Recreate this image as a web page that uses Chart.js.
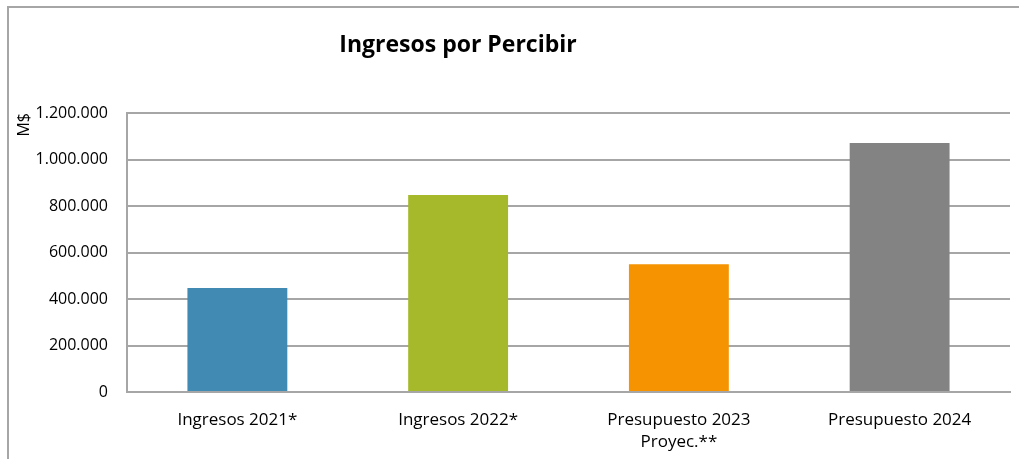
<!DOCTYPE html>
<html>
<head>
<meta charset="utf-8">
<script src="https://cdn.jsdelivr.net/npm/chart.js@4.4.1/dist/chart.umd.min.js"></script>
<style>
  html, body { margin: 0; padding: 0; background: #ffffff; }
  #wrap { position: relative; width: 1019px; height: 459px; overflow: hidden; }
  #frame { position: absolute; left: 7px; top: 6px; width: 1100px; height: 600px;
           border-left: 2px solid #a6a6a6; border-top: 2px solid #a6a6a6; }
  canvas { position: absolute; left: 0; top: 0; }
</style>
</head>
<body>
<div id="wrap">
  <div id="frame"></div>
  <canvas id="c" width="1019" height="459"></canvas>
</div>
<script>
const chartTitle = "Ingresos por Percibir";
const yAxisTitle = "M$";
const categories = [["Ingresos 2021*"], ["Ingresos 2022*"], ["Presupuesto 2023", "Proyec.**"], ["Presupuesto 2024"]];
const values = [447000, 847000, 550000, 1071000];
const barColors = ["#418ab3", "#a6b92a", "#f59300", "#838383"];
const yTicks = [0, 200000, 400000, 600000, 800000, 1000000, 1200000];

function fmt(v) {
  return String(Math.round(v)).replace(/\B(?=(\d{3})+(?!\d))/g, ".");
}

const titlePlugin = {
  id: 'freeTitle',
  afterDraw(chart) {
    const ctx = chart.ctx;
    ctx.save();
    ctx.font = "bold 23px 'Open Sans'";
    ctx.fillStyle = "#000";
    ctx.textAlign = "center";
    ctx.textBaseline = "middle";
    ctx.fillText(chartTitle, 458, 45);
    ctx.restore();
  }
};

new Chart(document.getElementById('c'), {
  type: 'bar',
  data: {
    labels: categories,
    datasets: [{
      data: values,
      backgroundColor: barColors,
      borderWidth: 0,
      categoryPercentage: 1.0,
      barPercentage: 0.4525
    }]
  },
  plugins: [titlePlugin],
  options: {
    responsive: false,
    animation: false,
    devicePixelRatio: 1,
    layout: { padding: { top: 113, right: 9, bottom: 0, left: 0 } },
    plugins: { legend: { display: false }, tooltip: { enabled: false }, title: { display: false } },
    scales: {
      x: {
        grid: { display: false, drawTicks: false },
        border: { display: true, color: '#a6a6a6', width: 2 },
        ticks: { color: '#000', font: { family: "'Open Sans'", size: 17, lineHeight: 1.25 }, padding: 18, maxRotation: 0, autoSkip: false },
        afterFit(scale) { scale.height = 67; }
      },
      y: {
        min: 0, max: 1200000,
        afterBuildTicks(scale) { scale.ticks = yTicks.map(v => ({ value: v })); },
        grid: { color: '#a6a6a6', lineWidth: 2, drawTicks: false },
        border: { display: true, color: '#a6a6a6', width: 2 },
        ticks: { color: '#000', font: { family: "'Open Sans'", size: 16 }, padding: 19, callback: v => fmt(v) },
        title: { display: true, text: yAxisTitle, align: 'end', color: '#000',
                 font: { family: "'Open Sans'", size: 16 }, padding: { top: 15, bottom: 0 } },
        afterFit(scale) { scale.width = 127; }
      }
    }
  }
});
</script>
</body>
</html>
